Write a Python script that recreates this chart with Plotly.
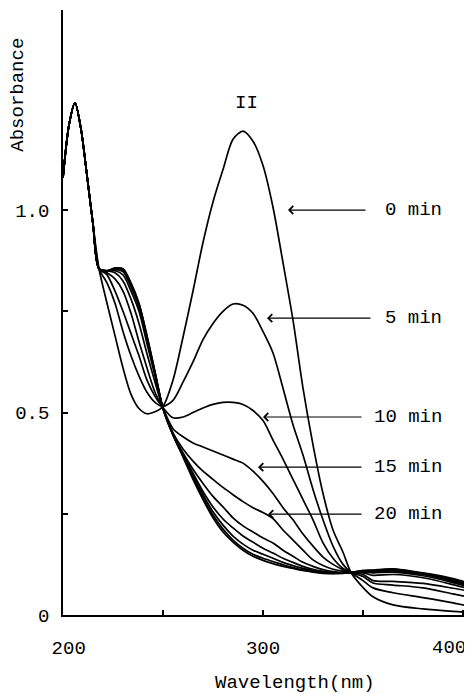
import plotly.graph_objects as go

# Wavelength grid (nm)
wavelength = [200, 203, 206, 209, 212, 215, 218,
              222, 226, 230, 234, 238, 242, 246, 250,
              255, 260, 265, 270, 275, 280, 285, 290, 295, 300, 305, 310, 315, 320, 325, 330, 335, 340, 344,
              350, 355, 365, 380, 395, 405]

# Common band (all curves overlap) 200-218 nm
head = [1.08, 1.21, 1.265, 1.20, 1.085, 0.965, 0.855]

# Series values for 222..405 nm
a_0min = [0.77, 0.69, 0.61, 0.545, 0.51, 0.497, 0.502, 0.515,
          0.58, 0.686, 0.80, 0.92, 1.02, 1.10, 1.175, 1.195, 1.17, 1.11, 1.007, 0.87, 0.728, 0.56, 0.42, 0.30, 0.21, 0.155, 0.105,
          0.068, 0.045, 0.025, 0.015, 0.009, 0.006]
a_5min = [0.82, 0.77, 0.70, 0.64, 0.59, 0.55, 0.525, 0.515,
          0.53, 0.575, 0.625, 0.68, 0.72, 0.75, 0.768, 0.765, 0.745, 0.70, 0.647, 0.56, 0.47, 0.395, 0.31, 0.235, 0.17, 0.125, 0.105,
          0.085, 0.067, 0.055, 0.043, 0.03, 0.02]
a_10min = [0.84, 0.80, 0.75, 0.695, 0.64, 0.58, 0.54, 0.512,
           0.487, 0.489, 0.50, 0.511, 0.52, 0.525, 0.525, 0.52, 0.505, 0.48, 0.432, 0.385, 0.335, 0.285, 0.235, 0.178, 0.14, 0.115, 0.105,
           0.095, 0.079, 0.074, 0.067, 0.052, 0.042]
a_15min = [0.845, 0.83, 0.80, 0.745, 0.675, 0.61, 0.55, 0.51,
           0.46, 0.44, 0.425, 0.415, 0.405, 0.395, 0.385, 0.375, 0.355, 0.33, 0.30, 0.265, 0.235, 0.20, 0.17, 0.143, 0.125, 0.112, 0.105,
           0.10, 0.085, 0.083, 0.078, 0.066, 0.057]
a_20min = [0.85, 0.845, 0.825, 0.78, 0.72, 0.645, 0.575, 0.51,
           0.45, 0.41, 0.38, 0.355, 0.335, 0.315, 0.297, 0.28, 0.265, 0.253, 0.238, 0.21, 0.185, 0.16, 0.136, 0.122, 0.113, 0.108, 0.105,
           0.104, 0.098, 0.10, 0.092, 0.075, 0.062]
a_25min = [0.85, 0.85, 0.84, 0.80, 0.75, 0.67, 0.59, 0.51,
           0.447, 0.40, 0.36, 0.325, 0.293, 0.267, 0.24, 0.22, 0.205, 0.19, 0.178, 0.16, 0.145, 0.13, 0.12, 0.112, 0.107, 0.105, 0.105,
           0.106, 0.104, 0.106, 0.097, 0.08, 0.066]
a_30min = [0.85, 0.853, 0.848, 0.81, 0.76, 0.68, 0.595, 0.51,
           0.445, 0.398, 0.35, 0.305, 0.267, 0.237, 0.215, 0.195, 0.18, 0.165, 0.153, 0.14, 0.13, 0.12, 0.113, 0.108, 0.105, 0.104, 0.105,
           0.107, 0.107, 0.109, 0.10, 0.083, 0.069]
a_35min = [0.85, 0.855, 0.852, 0.815, 0.765, 0.685, 0.598, 0.51,
           0.445, 0.395, 0.345, 0.297, 0.255, 0.222, 0.195, 0.175, 0.16, 0.15, 0.14, 0.13, 0.122, 0.115, 0.11, 0.106, 0.104, 0.104, 0.105,
           0.108, 0.109, 0.111, 0.102, 0.086, 0.071]
a_40min = [0.85, 0.856, 0.854, 0.818, 0.768, 0.688, 0.60, 0.51,
           0.445, 0.393, 0.34, 0.29, 0.247, 0.212, 0.185, 0.165, 0.15, 0.14, 0.132, 0.124, 0.117, 0.111, 0.107, 0.104, 0.103, 0.104, 0.105,
           0.109, 0.11, 0.113, 0.103, 0.088, 0.073]
a_50min = [0.85, 0.857, 0.855, 0.82, 0.77, 0.69, 0.60, 0.51,
           0.445, 0.39, 0.335, 0.285, 0.24, 0.205, 0.18, 0.16, 0.145, 0.135, 0.127, 0.12, 0.115, 0.11, 0.106, 0.103, 0.102, 0.103, 0.105,
           0.11, 0.111, 0.114, 0.104, 0.09, 0.075]

series = [a_0min, a_5min, a_10min, a_15min, a_20min, a_25min, a_30min, a_35min, a_40min, a_50min]

# Axis ticks
x_tickvals = [200, 250, 300, 350, 400]
x_ticktext = ["\u00a0200", "", "300", "", ""]
x_last_label = "400"          # drawn right-aligned at its tick so it stays inside the page
y_tickvals = [0, 0.25, 0.5, 0.75, 1.0]
y_ticktext = ["0", "", "0.5", "", "1.0"]

# Labels and arrow positions (tip wavelength, absorbance, tail wavelength)
labels = ["0 min", "5 min", "10 min", "15 min", "20 min"]
label_tip_x = [312.5, 302.0, 300.0, 297.5, 302.5]
label_y = [1.0, 0.733, 0.489, 0.365, 0.249]
label_tail_x = [352.0, 354.5, 350.0, 350.0, 350.0]

FONT = "Liberation Mono"

fig = go.Figure()
for vals in series:
    fig.add_trace(go.Scatter(x=wavelength, y=head + vals, mode="lines",
                             line=dict(color="black", width=1.7, shape="spline", smoothing=0.8),
                             showlegend=False, hoverinfo="skip"))

annotations = []
for txt, tx, ty, tail in zip(labels, label_tip_x, label_y, label_tail_x):
    annotations.append(dict(x=tx, y=ty, ax=tail, ay=ty, xref="x", yref="y", axref="x", ayref="y",
                            text="", showarrow=True, arrowhead=4, arrowsize=1.3, arrowwidth=1.2,
                            arrowcolor="black"))
    annotations.append(dict(x=390.5, y=ty, xref="x", yref="y", text=txt, showarrow=False,
                            xanchor="right", yanchor="middle", font=dict(family=FONT, size=19, color="black")))

annotations.append(dict(x=x_tickvals[-1], y=-0.0545, xref="x", yref="paper", text=x_last_label,
                        showarrow=False, xanchor="right", xshift=5, yanchor="middle",
                        font=dict(family=FONT, size=19, color="black")))
annotations.append(dict(x=291.5, y=1.264, xref="x", yref="y", text="II", showarrow=False,
                        xanchor="center", yanchor="middle", font=dict(family=FONT, size=19, color="black")))
annotations.append(dict(x=316, y=-0.112, xref="x", yref="paper", text="Wavelength(nm)", showarrow=False,
                        xanchor="center", yanchor="middle", font=dict(family=FONT, size=19, color="black")))
annotations.append(dict(x=-0.11, y=0.86, xref="paper", yref="paper", text="Absorbance", showarrow=False,
                        textangle=-90, xanchor="center", yanchor="middle",
                        font=dict(family=FONT, size=19, color="black")))

# Page body has an 8px default margin; size the figure so the plot lands where it should.
fig.update_layout(
    width=464, height=686, autosize=False,
    margin=dict(l=55, r=0, t=2, b=79),
    plot_bgcolor="white", paper_bgcolor="white",
    annotations=annotations,
    xaxis=dict(range=[200, 404.5], showline=True, linecolor="black", linewidth=1.5,
               ticks="inside", ticklen=5, tickwidth=1.5, tickcolor="black",
               tickvals=x_tickvals, ticktext=x_ticktext, ticklabeloverflow="allow",
               showgrid=False, zeroline=False, ticklabelstandoff=14, automargin=False,
               tickfont=dict(family=FONT, size=19, color="black")),
    yaxis=dict(range=[0, 1.494], showline=True, linecolor="black", linewidth=1.5,
               ticks="inside", ticklen=5, tickwidth=1.5, tickcolor="black",
               tickvals=y_tickvals, ticktext=y_ticktext,
               showgrid=False, zeroline=False, ticklabelstandoff=8, automargin=False,
               tickfont=dict(family=FONT, size=19, color="black")),
)

fig.write_html("out.html", config={"displayModeBar": False})
